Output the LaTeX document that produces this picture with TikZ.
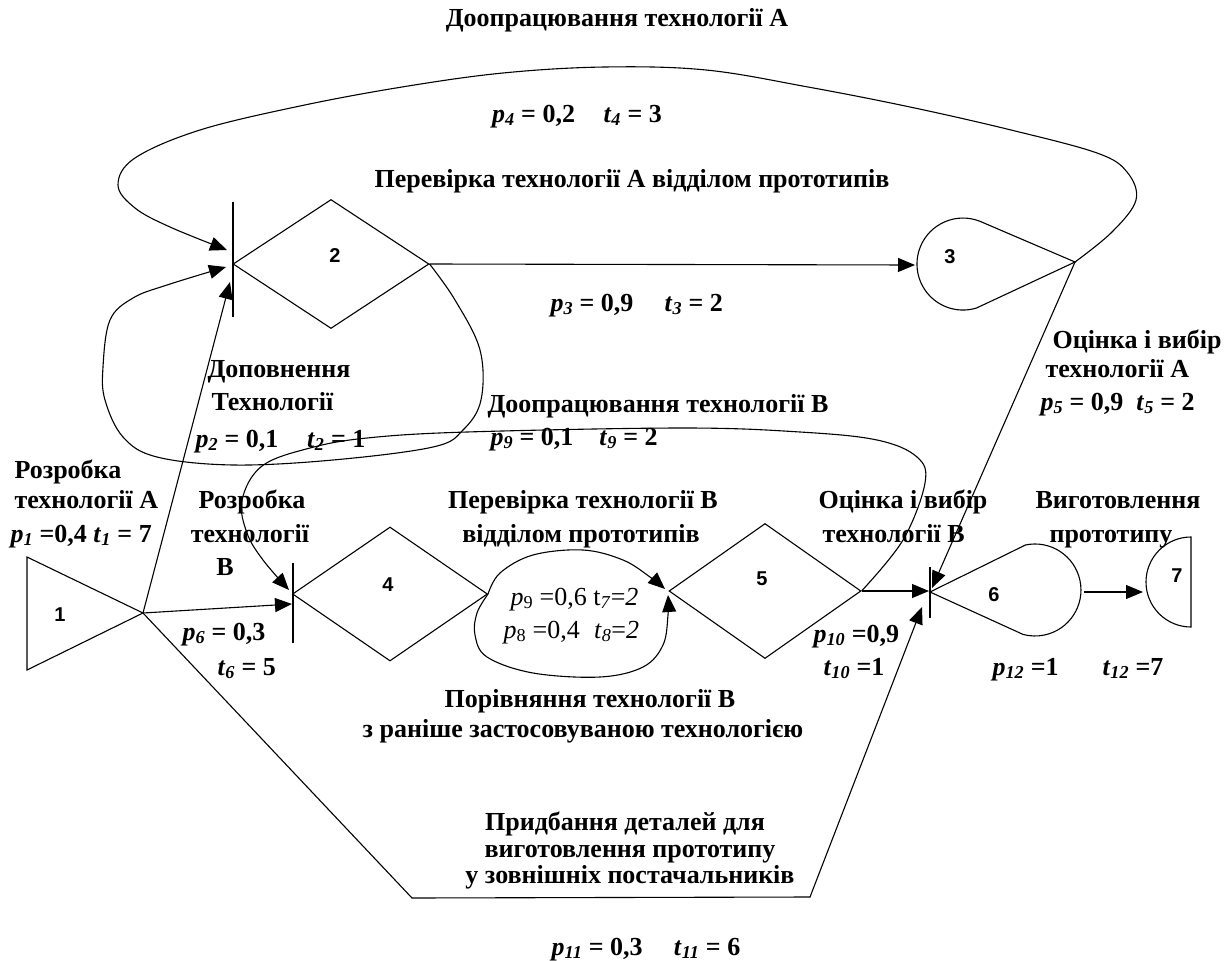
\documentclass[tikz,border=0pt]{standalone}
\usepackage{fontspec}
\setmainfont{Liberation Serif}
\newfontfamily\numfont{Liberation Sans}
\usetikzlibrary{arrows.meta,shapes.geometric}
\newcommand\myvar[2]{\textit{#1}\textsubscript{\textit{#2}}}
\tikzset{
  lbl/.style={font=\bfseries\fontsize{26}{31}\selectfont, inner sep=0pt, anchor=base},
  lblw/.style={lbl, anchor=base west},
  thin lbl/.style={font=\fontsize{26}{31}\selectfont, inner sep=0pt, anchor=base west},
  num/.style={font=\numfont\bfseries\fontsize{20}{22}\selectfont, inner sep=0pt},
  dia/.style={draw, diamond, inner sep=0pt},
  arr/.style={-{Triangle[length=17pt,width=14pt]}},
  curve/.style={smooth, tension=0.6}
}
\begin{document}
\begin{tikzpicture}[x=1pt,y=-1pt,line width=1.1pt]
\useasboundingbox (0,0) rectangle (1232,961);

% ---------- node 1 (triangle) ----------
\draw (27,557) -- (143,613) -- (27,670) -- cycle;
\coordinate (n1) at (143,613);
\node[num] (l1) at (60,615) {1};

% ---------- node 2 (bar + diamond) ----------
\draw (233,202) -- (233,317);
\node[dia, minimum width=196pt, minimum height=129pt] (d2) at (331,264) {};
\node[num] (l2) at (335,256) {2};
\coordinate (n2in1) at (227,250);
\coordinate (n2in2) at (226,267);
\coordinate (n2in3) at (230,282);

% ---------- node 3 (teardrop) ----------
\coordinate (n3tip) at (1075,262);
\draw (n3tip) -- (980.2,221.4) arc[start angle=-68, end angle=-287, radius=46] -- cycle;
\node[num] (l3) at (950,257) {3};
\coordinate (n3w) at (915,265);

% ---------- node 4 ----------
\draw (293,563) -- (293,643);
\node[dia, minimum width=195pt, minimum height=134pt] (d4) at (390,594) {};
\node[num] (l4) at (388,585) {4};
\coordinate (n4in1) at (289,590);
\coordinate (n4in2) at (292,604);

% ---------- node 5 ----------
\node[dia, minimum width=192pt, minimum height=135pt] (d5) at (765,591) {};
\node[num] (l5) at (762,579) {5};
\coordinate (n5in1) at (665,589);
\coordinate (n5in2) at (668,595);

% ---------- node 6 (bar + teardrop) ----------
\draw (930,567) -- (930,618);
\coordinate (n6tip) at (930,592);
\draw (n6tip) -- (1025.4,545) arc[start angle=-102, end angle=105, radius=46] -- cycle;
\node[num] (l6) at (994,595) {6};
\coordinate (n6in0) at (929,591);
\coordinate (n6in1) at (932,588);
\coordinate (n6in2) at (922,607);
\coordinate (n6e) at (1084,592);

% ---------- node 7 (half disc) ----------
\draw (1191,537) arc[start angle=-90, end angle=-270, radius=45] -- cycle;
\node[num] (l7) at (1177,576) {7};
\coordinate (n7w) at (1143,592);

% ---------- connectors ----------
\draw[arr] (n1) -- (n2in3);
\draw[arr] (n1) -- (n4in2);
\draw[arr] (d2.east) -- (n3w);
\draw[arr] (n3tip) -- (n6in1);
\coordinate (b1) at (412,898);
\coordinate (b2) at (810,897);
\draw[arr] (n1) -- (b1) -- (b2) -- (n6in2);
\draw[arr] (d5.east) -- (n6in0);
\draw[arr] (n6e) -- (n7w);

% top loop: 3 -> 2
\draw[arr] plot[curve] coordinates {(n3tip) (1112,232) (1136,200) (1127,172) (1097,153) (1011,130) (910,107) (808,87) (706,70) (605,67) (503,73) (402,87) (300,106) (200,130) (135,158) (118,185) (135,208) (170,227) (n2in1)};

% loop 2 -> 2
\draw[arr] plot[curve] coordinates {(d2.east) (455,300) (480,350) (481,400) (463,430) (433,447) (333,460) (233,465) (157,457) (123,437) (105,400) (103,367) (110,320) (133,298) (167,285) (n2in2)};

% loop 5 -> 4
\draw[arr] plot[curve] coordinates {(d5.east) (903,540) (925,483) (917,457) (877,440) (800,432) (683,428) (467,432) (367,438) (310,448) (262,466) (242,500) (247,533) (263,560) (n4in1)};

% 4 -> 5 (two arcs)
\draw[arr] plot[curve] coordinates {(d4.east) (500,573) (533,555) (583,550) (623,560) (650,577) (n5in1)};
\draw[arr] plot[curve] coordinates {(d4.east) (477,613) (475,635) (487,657) (533,673) (600,677) (643,667) (663,645) (668,615) (n5in2)};

% ---------- labels ----------
\node[lbl] (tA1) at (617,27) {Доопрацювання технології А};
\node[lbl] (tA2) at (577,122) {\myvar{p}{4} = 0,2\hspace{1.1em}\myvar{t}{4} = 3};
\node[lbl] (tA3) at (632,187) {Перевірка технології А відділом прототипів};
\node[lblw] (tA4) at (550,311) {\myvar{p}{3} = 0,9\hspace{1.2em}\myvar{t}{3} = 2};

\node[lblw] (tD1) at (207,377) {Доповнення};
\node[lblw] (tD2) at (211,410) {Технології};
\node[lblw] (tD3) at (195,447) {\myvar{p}{2} = 0,1\hspace{1.1em}\myvar{t}{2} = 1};

\node[lblw] (tO1) at (1052,348) {Оцінка і вибір};
\node[lblw] (tO2) at (1045,377) {технології А};
\node[lblw] (tO3) at (1040,410) {\myvar{p}{5} = 0,9\hspace{0.5em}\myvar{t}{5} = 2};

\node[lblw] (tB1) at (487,412) {Доопрацювання технології В};
\node[lblw] (tB2) at (490,445) {\myvar{p}{9} = 0,1\hspace{1em}\myvar{t}{9} = 2};

\node[lblw] (tR1) at (14,478) {Розробка};
\node[lblw] (tR2) at (14,508) {технології А};
\node[lblw] (tR3) at (10,542) {\myvar{p}{1} =0,4 \myvar{t}{1} = 7};

\node[lbl] (tS1) at (252,508) {Розробка};
\node[lbl] (tS2) at (250,542) {технології};
\node[lbl] (tS3) at (225,575) {В};

\node[lbl] (tP1) at (583,508) {Перевірка технології В};
\node[lbl] (tP2) at (581,542) {відділом прототипів};

\node[lblw] (tE1) at (818,508) {Оцінка і вибір};
\node[lblw] (tE2) at (822,542) {технології В};

\node[lbl] (tV1) at (1118,508) {Виготовлення};
\node[lbl] (tV2) at (1111,542) {прототипу};

\node[thin lbl] (tI1) at (510,605) {\textit{p}\textsubscript{9} =0,6 t\textsubscript{\textit{7}}=\textit{2}};
\node[thin lbl] (tI2) at (503,638) {\textit{p}\textsubscript{8} =0,4\hspace{0.3em} \textit{t}\textsubscript{\textit{8}}=\textit{2}};

\node[lblw] (t61) at (182,640) {\myvar{p}{6} = 0,3};
\node[lblw] (t62) at (217,675) {\myvar{t}{6} = 5};

\node[lblw] (t101) at (813,642) {\myvar{p}{10} =0,9};
\node[lblw] (t102) at (823,675) {\myvar{t}{10} =1};

\node[lblw] (t121) at (992,675) {\myvar{p}{12} =1};
\node[lblw] (t122) at (1102,675) {\myvar{t}{12} =7};

\node[lbl] (tC1) at (590,707) {Порівняння технології В};
\node[lbl] (tC2) at (583,737) {з раніше застосовуваною технологією};

\node[lbl] (tZ1) at (625,830) {Придбання деталей для};
\node[lbl] (tZ2) at (630,857) {виготовлення прототипу};
\node[lbl] (tZ3) at (630,883) {у зовнішніх постачальників};
\node[lbl] (tZ4) at (646,955) {\myvar{p}{11} = 0,3\hspace{1.2em}\myvar{t}{11} = 6};
\end{tikzpicture}
\end{document}
